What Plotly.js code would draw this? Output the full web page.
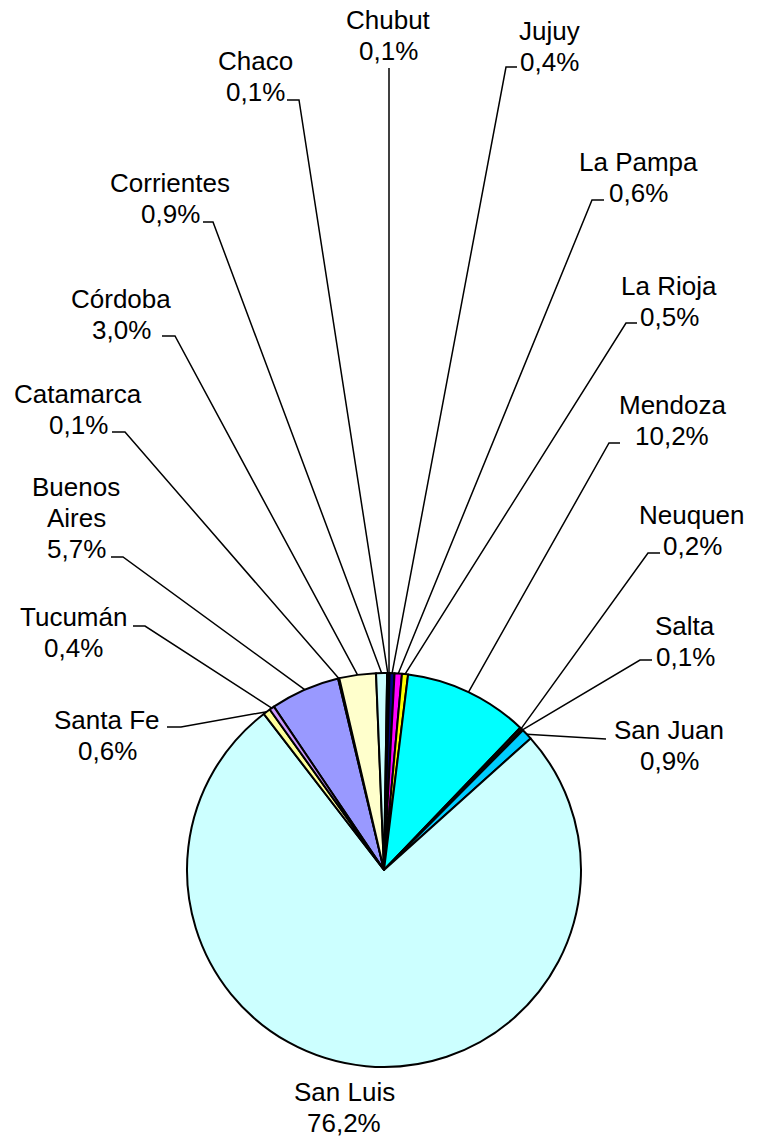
<!DOCTYPE html>
<html><head><meta charset="utf-8">
<script src="https://cdn.plot.ly/plotly-3.0.1.min.js"></script>
<style>html,body{margin:0;padding:0;background:#fff}#chart{width:758px;height:1139px}</style>
</head><body><div id="chart"></div>
<script>
// ---- data ----
const provinces = ["Buenos Aires","Catamarca","Córdoba","Corrientes","Chaco","Chubut","Jujuy","La Pampa","La Rioja","Mendoza","Neuquen","Salta","San Juan","San Luis","Santa Fe","Tucumán"];
const shares = [5.7,0.1,3.0,0.9,0.1,0.1,0.4,0.6,0.5,10.2,0.2,0.1,0.9,76.2,0.6,0.4];
const sliceColors = ["#9999FF","#993366","#FFFFCC","#CCFFFF","#660066","#FF8080","#000080","#FF00FF","#FFFF00","#00FFFF","#800000","#0000FF","#00CCFF","#CCFFFF","#FFFF99","#CC99FF"];

// ---- layout constants (pixels) ----
const W = 758, H = 1139, CX = 384, CY = 870, R = 197, ROT = -34, STEP = 31;
const labelLayout = {
  "Buenos Aires": {x:76,  y:487, wrap:true, tick:[[111,557],[123,557]]},
  "Catamarca":    {x:78,  y:394, tick:[[112,432],[125,432]]},
  "Córdoba":      {x:121, y:299, tick:[[162,336],[175,336]]},
  "Corrientes":   {x:170, y:183, tick:[[203,222],[213,222]]},
  "Chaco":        {x:255, y:61,  tick:[[287,100],[299,100]]},
  "Chubut":       {x:388, y:20,  tick:[[389,68]]},
  "Jujuy":        {x:549, y:31,  tick:[[517,67],[506,67]]},
  "La Pampa":     {x:638, y:162, tick:[[604,200],[592,200]]},
  "La Rioja":     {x:669, y:286, tick:[[637,323],[626,323]]},
  "Mendoza":      {x:672, y:405, tick:[[620,443],[609,443]]},
  "Neuquen":      {x:692, y:515, tick:[[660,553],[648,553]]},
  "Salta":        {x:685, y:626, tick:[[652,660],[640,660]]},
  "San Juan":     {x:669, y:730, tick:[[606,739]]},
  "San Luis":     {x:344, y:1092, tick:[]},
  "Santa Fe":     {x:107, y:720, tick:[[167,727],[181,727]]},
  "Tucumán":      {x:73,  y:617, tick:[[133,626],[145,626]]}
};

const px = v => v / W;
const py = v => 1 - v / H;
const fmt = v => v.toFixed(1).replace('.', ',') + '%';
const total = shares.reduce((a, b) => a + b, 0);

const annotations = [];
const shapes = [];
let cum = 0;
provinces.forEach((name, i) => {
  const v = shares[i];
  const mid = (ROT + 360 * (cum + v / 2) / total) * Math.PI / 180;
  cum += v;
  const rim = [CX + R * Math.sin(mid), CY - R * Math.cos(mid)];
  const L = labelLayout[name];
  const lines = (L.wrap ? name.split(' ') : [name]).concat([fmt(v)]);
  lines.forEach((t, k) => {
    annotations.push({
      xref: 'paper', yref: 'paper', x: px(L.x), y: py(L.y + k * STEP),
      xanchor: 'center', yanchor: 'middle', showarrow: false, text: t,
      font: {family: 'Liberation Sans, Arial, sans-serif', size: 26, color: '#000'}
    });
  });
  if (L.tick.length) {
    const pts = L.tick.concat([rim]);
    const path = pts.map((p, k) => (k ? 'L ' : 'M ') + px(p[0]) + ',' + py(p[1])).join(' ');
    shapes.push({type: 'path', xref: 'paper', yref: 'paper', path: path,
      line: {color: '#000', width: 1.5}});
  }
});

const trace = {
  type: 'pie', values: shares, labels: provinces, sort: false,
  direction: 'clockwise', rotation: ROT,
  marker: {colors: sliceColors, line: {color: '#000', width: 2}},
  textinfo: 'none', hoverinfo: 'none',
  domain: {x: [px(CX - R), px(CX + R)], y: [py(CY + R), py(CY - R)]}
};

Plotly.newPlot('chart', [trace], {
  width: W, height: H, margin: {l: 0, r: 0, t: 0, b: 0, pad: 0},
  showlegend: false, paper_bgcolor: '#fff', plot_bgcolor: '#fff',
  annotations: annotations, shapes: shapes
}, {staticPlot: true, displayModeBar: false});
</script></body></html>
